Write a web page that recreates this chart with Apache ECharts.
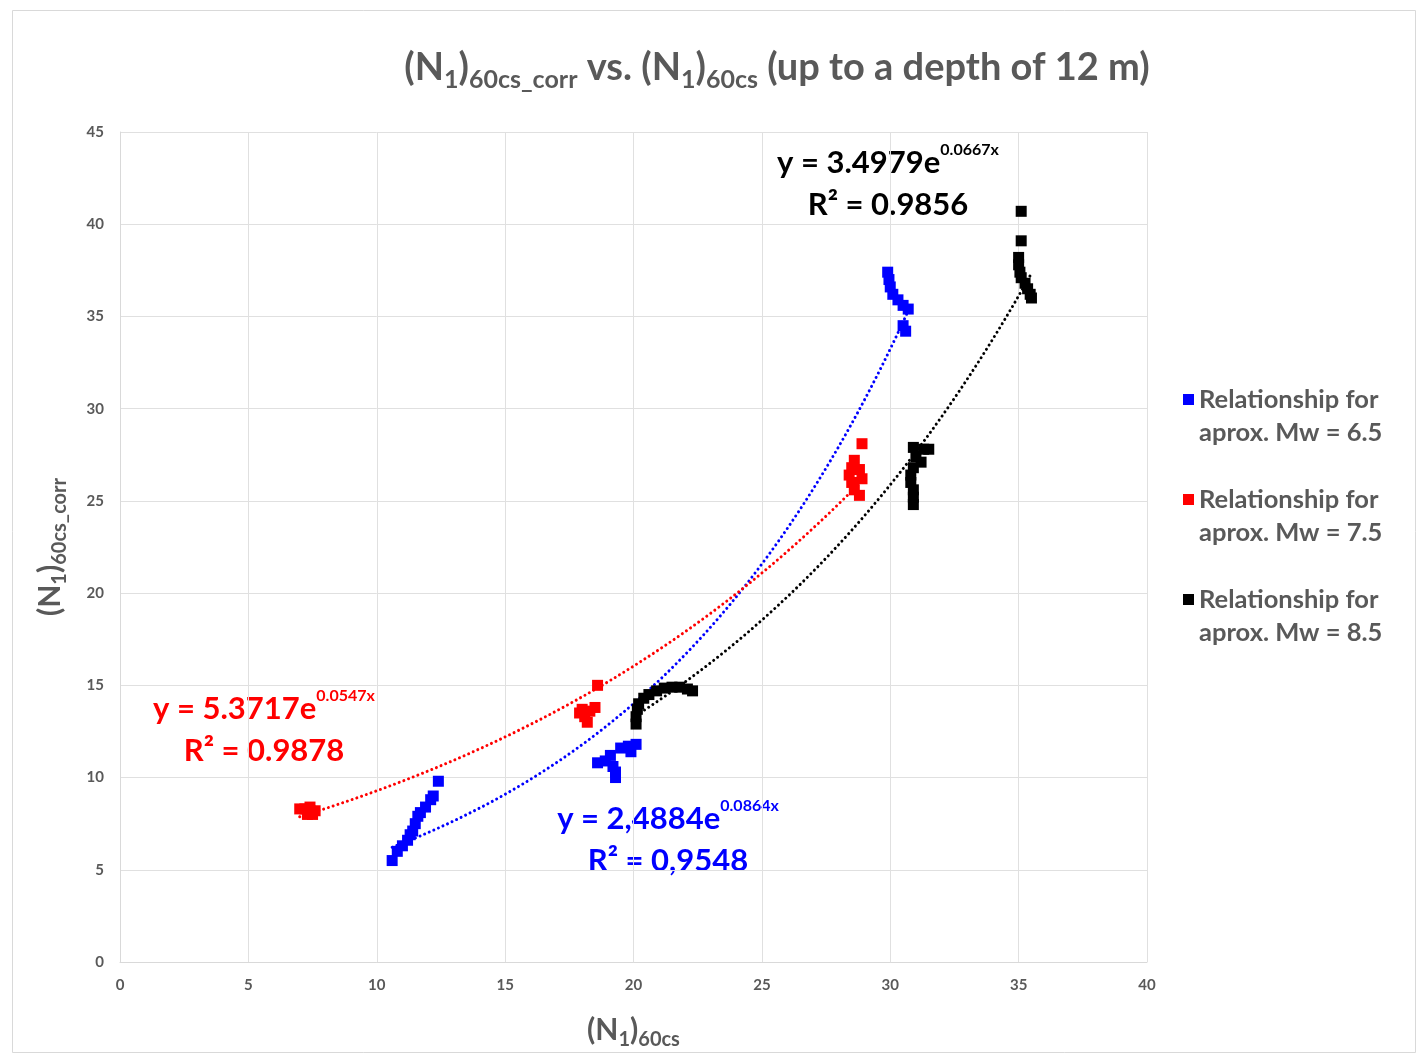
<!DOCTYPE html>
<html>
<head>
<meta charset="utf-8">
<script src="https://cdn.jsdelivr.net/npm/echarts@6/dist/echarts.min.js"></script>
<style>
  html, body { margin: 0; padding: 0; background: #ffffff; }
  #chart { width: 1418px; height: 1055px; }
</style>
</head>
<body>
<div id="chart"></div>
<script>
// (N1)60cs vs (N1)60cs_corr, points down to 12 m depth, one list per magnitude
const mw65Points = [
  [10.6, 5.5], [10.8, 6.0], [11.0, 6.3], [11.2, 6.6], [11.3, 6.9], [11.4, 7.1],
  [11.5, 7.5], [11.6, 7.9], [11.7, 8.1], [11.9, 8.4], [12.1, 8.8], [12.2, 9.0], [12.4, 9.8],
  [18.6, 10.8], [18.9, 10.9], [19.1, 11.2], [19.2, 10.6], [19.3, 10.3], [19.3, 10.0],
  [19.5, 11.6], [19.8, 11.7], [20.1, 11.8], [19.9, 11.4],
  [29.9, 37.4], [29.95, 37.0], [30.0, 36.6], [30.1, 36.2], [30.3, 35.9], [30.5, 35.6],
  [30.7, 35.4], [30.5, 34.5], [30.6, 34.2]
];
const mw75Points = [
  [7.0, 8.3], [7.2, 8.3], [7.4, 8.2], [7.5, 8.0], [7.3, 8.0], [7.6, 8.2], [7.4, 8.4],
  [17.9, 13.5], [18.1, 13.3], [18.2, 13.0], [18.3, 13.6], [18.5, 13.8], [18.0, 13.7], [18.6, 15.0],
  [28.6, 27.2], [28.5, 26.8], [28.4, 26.4], [28.5, 26.0], [28.6, 25.6], [28.8, 25.3],
  [28.9, 26.2], [28.8, 26.7], [28.9, 28.1]
];
const mw85Points = [
  [20.1, 12.9], [20.1, 13.3], [20.15, 13.7], [20.2, 14.0], [20.4, 14.3], [20.6, 14.5],
  [20.9, 14.7], [21.2, 14.85], [21.5, 14.9], [21.8, 14.9], [22.1, 14.8], [22.3, 14.7],
  [30.9, 27.9], [31.3, 27.8], [31.5, 27.8], [31.0, 27.4], [31.2, 27.1], [30.9, 26.8],
  [30.8, 26.4], [30.8, 26.0], [30.9, 25.6], [30.9, 25.2], [30.9, 24.8],
  [35.1, 40.7], [35.1, 39.1], [35.0, 38.2], [35.0, 37.8], [35.05, 37.4], [35.1, 37.1],
  [35.25, 36.8], [35.35, 36.5], [35.45, 36.2], [35.5, 36.0]
];

const seriesNames = [
  'Relationship for\naprox. Mw = 6.5',
  'Relationship for\naprox. Mw = 7.5',
  'Relationship for\naprox. Mw = 8.5'
];
const seriesColors = ['#0000ff', '#ff0000', '#000000'];

// exponential trendlines y = a·e^(b·x), coefficients as printed on the chart
const trendA = [2.4884, 5.3717, 3.4979];
const trendB = [0.0864, 0.0547, 0.0667];
const eqLabels = ['2,4884', '5.3717', '3.4979'];
const eqExps = ['0.0864x', '0.0547x', '0.0667x'];
const r2Labels = ['0,9548', '0.9878', '0.9856'];

const xTicks = [0, 5, 10, 15, 20, 25, 30, 35, 40];
const yTicks = [0, 5, 10, 15, 20, 25, 30, 35, 40, 45];

const pointSets = [mw65Points, mw75Points, mw85Points];

function trendCurve(points, a, b) {
  const xs = points.map(p => p[0]);
  const lo = Math.min(...xs), hi = Math.max(...xs);
  const out = [];
  const n = 80;
  for (let i = 0; i <= n; i++) {
    const x = lo + (hi - lo) * i / n;
    out.push([x, a * Math.exp(b * x)]);
  }
  return out;
}

const FONT = 'Lato, "Open Sans", sans-serif';
const GREY = '#595959';

const chart = echarts.init(document.getElementById('chart'));

const series = [];
pointSets.forEach((pts, i) => {
  series.push({
    name: seriesNames[i],
    type: 'scatter',
    data: pts,
    symbol: 'rect',
    symbolSize: 11,
    itemStyle: { color: seriesColors[i], opacity: 1 },
    z: 3
  });
});
pointSets.forEach((pts, i) => {
  series.push({
    name: 'trend' + i,
    type: 'line',
    data: trendCurve(pts, trendA[i], trendB[i]),
    showSymbol: false,
    symbol: 'none',
    lineStyle: { color: seriesColors[i], width: 3, type: [0.01, 5], cap: 'round' },
    silent: true,
    z: 2
  });
});

function subRich(size, sub) {
  return {
    m: { fontSize: size, fontWeight: 'bold', color: GREY, fontFamily: FONT, lineHeight: size * 1.3 },
    s: { fontSize: sub, fontWeight: 'bold', color: GREY, fontFamily: FONT, lineHeight: sub, verticalAlign: 'bottom' }
  };
}

function eqGraphic(i, cx, cy) {
  const c = seriesColors[i];
  return {
    type: 'text',
    x: cx, y: cy,
    silent: true,
    style: {
      text: '{m|y = ' + eqLabels[i] + 'e}{p|' + eqExps[i] + '}\n{m|R² = ' + r2Labels[i] + '}',
      align: 'center',
      verticalAlign: 'middle',
      fontFamily: FONT,
      rich: {
        m: { fontSize: 31, fontWeight: 'bold', fill: c, color: c, fontFamily: FONT, lineHeight: 42 },
        p: { fontSize: 16, fontWeight: 'bold', fill: c, color: c, fontFamily: FONT, lineHeight: 16, verticalAlign: 'top' }
      }
    }
  };
}

const option = {
  backgroundColor: '#ffffff',
  animation: false,
  title: {
    text: '{m|(N}{s|1}{m|)}{s|60cs_corr}{m| vs. (N}{s|1}{m|)}{s|60cs}{m| (up to a depth of 12 m)}',
    left: 772, top: 38, textAlign: 'center',
    textStyle: { rich: subRich(38, 25) }
  },
  grid: { left: 120, right: 271, top: 132, bottom: 93 },
  legend: {
    data: seriesNames,
    orient: 'vertical',
    left: 1178, top: 345,
    itemWidth: 11, itemHeight: 11, itemGap: 1,
    icon: 'rect',
    formatter: name => '\n' + name,
    textStyle: {
      fontFamily: FONT, fontSize: 25.5, fontWeight: 'bold', color: GREY,
      lineHeight: 33
    }
  },
  xAxis: {
    type: 'value', min: 0, max: 40, interval: 5,
    name: '{m|(N}{s|1}{m|)}{s|60cs}',
    nameLocation: 'middle', nameGap: 49,
    nameTextStyle: { rich: subRich(30, 20) },
    axisLine: { show: true, lineStyle: { color: '#d9d9d9', width: 1 } },
    axisTick: { show: false },
    axisLabel: { color: GREY, fontFamily: FONT, fontSize: 15, fontWeight: 'bold', margin: 16 },
    splitLine: { show: true, lineStyle: { color: '#e0e0e0', width: 1 } }
  },
  yAxis: {
    type: 'value', min: 0, max: 45, interval: 5,
    name: '{m|(N}{s|1}{m|)}{s|60cs_corr}',
    nameLocation: 'middle', nameGap: 50, nameRotate: 90,
    nameTextStyle: { rich: subRich(30, 20) },
    axisLine: { show: true, lineStyle: { color: '#d9d9d9', width: 1 } },
    axisTick: { show: false },
    axisLabel: { color: GREY, fontFamily: FONT, fontSize: 15, fontWeight: 'bold', margin: 16 },
    splitLine: { show: true, lineStyle: { color: '#e0e0e0', width: 1 } }
  },
  graphic: [
    {
      type: 'rect', left: 10, top: 8, silent: true,
      shape: { width: 1403, height: 1042 },
      style: { fill: 'none', stroke: '#d9d9d9', lineWidth: 1 }
    },
    eqGraphic(2, 888, 184),
    eqGraphic(1, 264, 730),
    eqGraphic(0, 668, 840)
  ],
  series: series
};

chart.setOption(option);
</script>
</body>
</html>
